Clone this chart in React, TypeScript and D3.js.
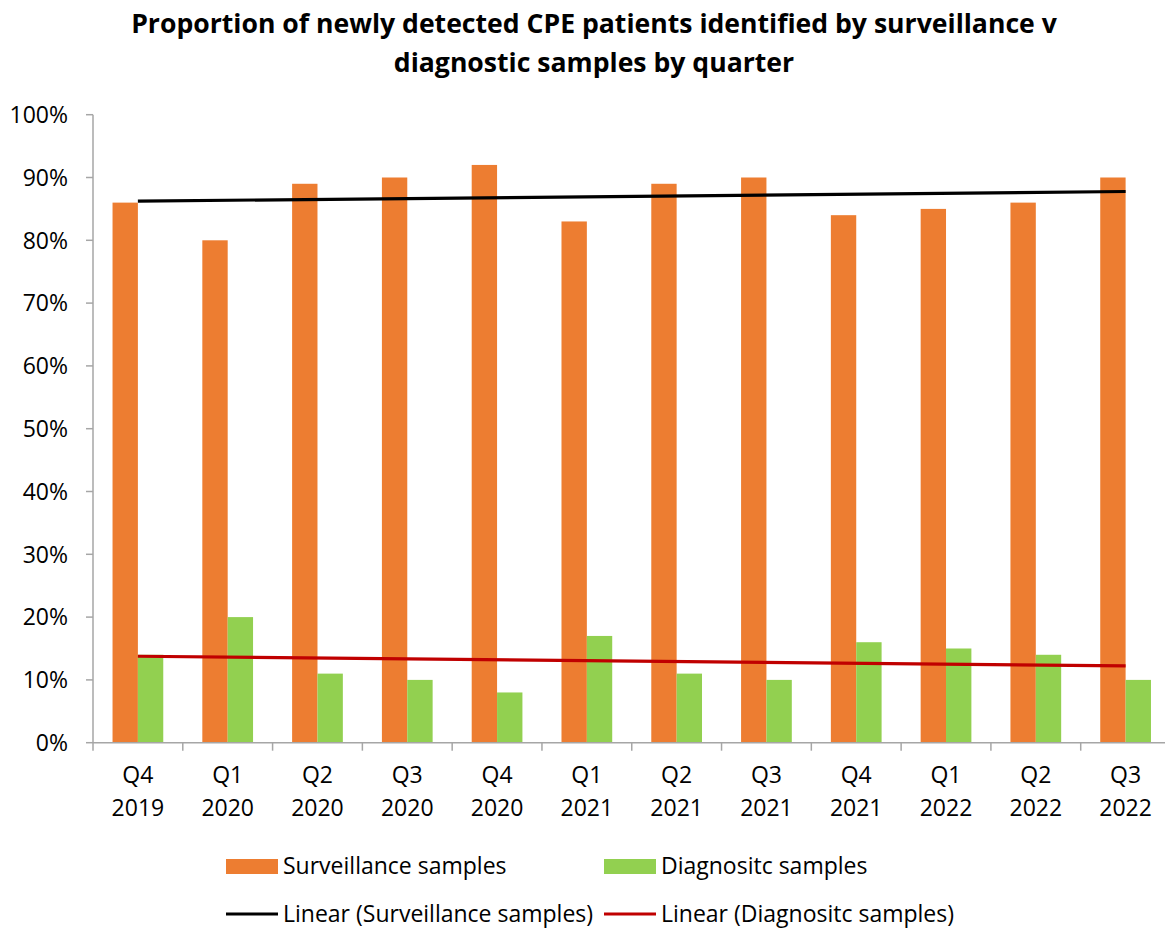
import React from "react";
import * as d3 from "d3";

const quarters = ["Q4", "Q1", "Q2", "Q3", "Q4", "Q1", "Q2", "Q3", "Q4", "Q1", "Q2", "Q3"];
const years = ["2019", "2020", "2020", "2020", "2020", "2021", "2021", "2021", "2021", "2022", "2022", "2022"];
const surveillance = [86, 80, 89, 90, 92, 83, 89, 90, 84, 85, 86, 90];
const diagnostic = [14, 20, 11, 10, 8, 17, 11, 10, 16, 15, 14, 10];
const yTicks = [0, 10, 20, 30, 40, 50, 60, 70, 80, 90, 100];
const seriesNames = ["Surveillance samples", "Diagnositc samples"];
const trendNames = ["Linear (Surveillance samples)", "Linear (Diagnositc samples)"];

const ORANGE = "#ED7D31";
const GREEN = "#92D050";
const BLACK = "#000000";
const RED = "#C00000";
const AXIS = "#A6A6A6";
const FONT = "'Open Sans', Lato, sans-serif";

function linReg(vals: number[]) {
  const n = vals.length;
  const mx = d3.mean(d3.range(n)) as number;
  const my = d3.mean(vals) as number;
  let sxy = 0, sxx = 0;
  vals.forEach((v, i) => { sxy += (i - mx) * (v - my); sxx += (i - mx) * (i - mx); });
  const b = sxy / sxx;
  const a = my - b * mx;
  return (i: number) => a + b * i;
}

export default function App() {
  const W = 1165, H = 928;
  const left = 93, right = 1170.5, top = 114.7, bottom = 742.7;
  const cats = d3.range(quarters.length).map(String);
  const x = d3.scaleBand().domain(cats).range([left, right]).padding(0);
  const inner = d3.scaleBand().domain(seriesNames).range([0, x.bandwidth()]).paddingInner(0).paddingOuter(0.77);
  const y = d3.scaleLinear().domain([0, 100]).range([bottom, top]);
  const seriesVals = [surveillance, diagnostic];
  const colors = [ORANGE, GREEN];
  const trendColors = [BLACK, RED];
  const line = d3.line<[number, number]>().x(d => d[0]).y(d => d[1]);
  const FS = 23;

  return (
    <svg width={W} height={H} style={{ display: "block", position: "absolute", left: 0, top: 0 }} fontFamily={FONT}>
      <rect x={0} y={0} width={W} height={H} fill="#fff" />
      <text x={594} y={33} textAnchor="middle" fontSize={26.6} fontWeight="bold" fill="#000">
        Proportion of newly detected CPE patients identified by surveillance v
      </text>
      <text x={594} y={72} textAnchor="middle" fontSize={26.6} fontWeight="bold" fill="#000">
        diagnostic samples by quarter
      </text>

      {/* y axis */}
      <line x1={left} x2={left} y1={top} y2={bottom} stroke={AXIS} strokeWidth={1.5} />
      {yTicks.map(t => (
        <g key={t}>
          <line x1={left - 7} x2={left} y1={y(t)} y2={y(t)} stroke={AXIS} strokeWidth={1.5} />
          <text x={68} y={y(t)} dy="0.36em" textAnchor="end" fontSize={FS} fill="#000">{t}%</text>
        </g>
      ))}

      {/* bars */}
      {seriesVals.map((vals, si) => (
        <g key={si}>
          {vals.map((v, i) => (
            <rect key={i}
              x={(x(String(i)) as number) + (inner(seriesNames[si]) as number)}
              y={y(v)} width={inner.bandwidth()} height={y(0) - y(v)} fill={colors[si]} />
          ))}
        </g>
      ))}

      {/* x axis */}
      <line x1={left} x2={right} y1={bottom} y2={bottom} stroke={AXIS} strokeWidth={1.5} />
      {d3.range(quarters.length + 1).map(i => {
        const xx = left + i * x.step();
        return <line key={i} x1={xx} x2={xx} y1={bottom} y2={bottom + 8} stroke={AXIS} strokeWidth={1.5} />;
      })}
      {quarters.map((q, i) => {
        const cx = (x(String(i)) as number) + x.bandwidth() / 2;
        return (
          <g key={i}>
            <text x={cx} y={775} dy="0.36em" textAnchor="middle" fontSize={FS} fill="#000">{q}</text>
            <text x={cx} y={808} dy="0.36em" textAnchor="middle" fontSize={FS} fill="#000">{years[i]}</text>
          </g>
        );
      })}

      {/* trend lines */}
      {seriesVals.map((vals, si) => {
        const f = linReg(vals);
        const n = vals.length;
        const pts: [number, number][] = [0, n - 1].map(i => [
          (x(String(i)) as number) + x.bandwidth() / 2, y(f(i))
        ]);
        return <path key={si} d={line(pts) as string} stroke={trendColors[si]} strokeWidth={3.2} fill="none" />;
      })}

      {/* legend */}
      {seriesNames.map((name, si) => {
        const lx = si === 0 ? 226 : 604;
        return (
          <g key={name}>
            <rect x={lx} y={859} width={52} height={15} fill={colors[si]} />
            <text x={lx + 57} y={874} fontSize={FS} fill="#000">{name}</text>
          </g>
        );
      })}
      {trendNames.map((name, si) => {
        const lx = si === 0 ? 226 : 604;
        return (
          <g key={name}>
            <line x1={lx} x2={lx + 52} y1={914} y2={914} stroke={trendColors[si]} strokeWidth={3.2} />
            <text x={lx + 57} y={922} fontSize={FS} fill="#000">{name}</text>
          </g>
        );
      })}
    </svg>
  );
}
